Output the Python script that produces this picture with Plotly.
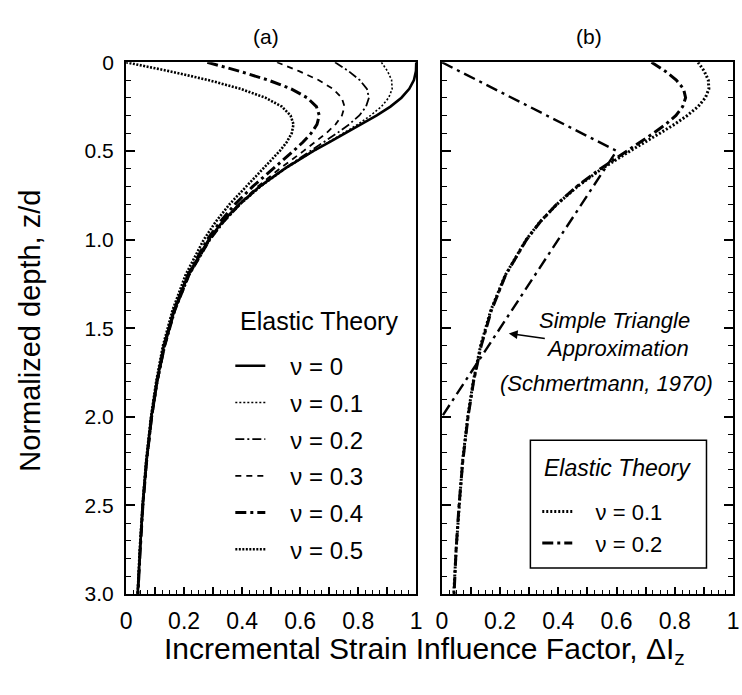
import plotly.graph_objects as go

# ---- data ----
depth = [0, 0.05, 0.1, 0.15, 0.2, 0.25, 0.3, 0.35, 0.4, 0.45, 0.5, 0.6, 0.7, 0.8,
         0.9, 1.0, 1.2, 1.4, 1.6, 1.8, 2.0, 2.25, 2.5, 2.75, 3.0]
nu_00 = [1.000, 0.999, 0.992, 0.976, 0.949, 0.911, 0.864, 0.811, 0.756, 0.701, 0.646,
         0.547, 0.461, 0.390, 0.332, 0.285, 0.213, 0.165, 0.130, 0.106, 0.087, 0.070,
         0.057, 0.048, 0.040]
nu_01 = [0.880, 0.901, 0.915, 0.917, 0.905, 0.880, 0.843, 0.799, 0.749, 0.698, 0.647,
         0.550, 0.466, 0.396, 0.337, 0.290, 0.218, 0.168, 0.133, 0.108, 0.089, 0.071,
         0.059, 0.049, 0.041]
nu_02 = [0.720, 0.767, 0.805, 0.830, 0.837, 0.827, 0.804, 0.769, 0.727, 0.682, 0.635,
         0.545, 0.464, 0.395, 0.338, 0.291, 0.219, 0.170, 0.135, 0.109, 0.090, 0.072,
         0.059, 0.049, 0.042]
nu_03 = [0.520, 0.596, 0.663, 0.713, 0.743, 0.753, 0.744, 0.722, 0.690, 0.653, 0.612,
         0.530, 0.454, 0.389, 0.333, 0.288, 0.218, 0.169, 0.134, 0.109, 0.090, 0.072,
         0.059, 0.049, 0.042]
nu_04 = [0.280, 0.390, 0.489, 0.569, 0.624, 0.656, 0.666, 0.658, 0.638, 0.610, 0.577,
         0.506, 0.437, 0.376, 0.324, 0.280, 0.213, 0.165, 0.132, 0.107, 0.088, 0.071,
         0.058, 0.049, 0.041]
nu_05 = [0.000, 0.148, 0.283, 0.395, 0.480, 0.537, 0.567, 0.577, 0.571, 0.554, 0.530,
         0.472, 0.412, 0.357, 0.309, 0.268, 0.205, 0.160, 0.127, 0.104, 0.086, 0.069,
         0.057, 0.047, 0.040]
tri_depth = [0.0, 0.5, 2.0]
tri_value = [0.0, 0.6, 0.0]

legend_a = ["\u03bd = 0", "\u03bd = 0.1", "\u03bd = 0.2", "\u03bd = 0.3", "\u03bd = 0.4", "\u03bd = 0.5"]
legend_b = ["\u03bd = 0.1", "\u03bd = 0.2"]
x_tickvals = [0, 0.1, 0.2, 0.3, 0.4, 0.5, 0.6, 0.7, 0.8, 0.9, 1.0]
x_ticktext = ["0", "", "0.2", "", "0.4", "", "0.6", "", "0.8", "", "1"]
y_tickvals = [0, 0.5, 1.0, 1.5, 2.0, 2.5, 3.0]
y_ticktext = ["0", "0.5", "1.0", "1.5", "2.0", "2.5", "3.0"]

W, H = 742, 695
FONT = "Liberation Sans, Arial, sans-serif"
PAD = "\u00a0\u00a0\u00a0"

def px_x(p):
    return p / W

def px_y(p):
    return 1 - p / H

fig = go.Figure()

styles_a = [
    dict(width=2.6, dash="solid"),
    dict(width=1.6, dash="2px,2px"),
    dict(width=1.8, dash="9px,3px,2px,3px"),
    dict(width=1.8, dash="6px,5px"),
    dict(width=3.0, dash="11px,4px,3px,4px"),
    dict(width=2.6, dash="2px,1.5px"),
]
series_a = [nu_00, nu_01, nu_02, nu_03, nu_04, nu_05]
for i, (vals, st, name) in enumerate(zip(series_a, styles_a, legend_a)):
    fig.add_trace(go.Scatter(x=vals, y=depth, mode="lines", name=PAD + name,
                             line=dict(color="black", **st),
                             xaxis="x", yaxis="y", legend="legend",
                             legendgroup="a%d" % i))

fig.add_trace(go.Scatter(x=tri_value, y=tri_depth, mode="lines", showlegend=False,
                         line=dict(color="black", width=2.4, dash="12px,5px,3px,5px"),
                         xaxis="x2", yaxis="y2"))
styles_b = [dict(width=3.0, dash="2px,2px"), dict(width=3.0, dash="11px,4px,3px,4px")]
for i, (vals, st, name) in enumerate(zip([nu_01, nu_02], styles_b, legend_b)):
    fig.add_trace(go.Scatter(x=vals, y=depth, mode="lines", name=PAD + name,
                             line=dict(color="black", **st),
                             xaxis="x2", yaxis="y2", legend="legend2",
                             legendgroup="b%d" % i))

dom_a = [px_x(122), px_x(417)]
dom_b = [px_x(443), px_x(739)]
dom_y = [px_y(602), px_y(52)]

xcommon = dict(range=[0, 1], tickvals=x_tickvals, ticktext=x_ticktext, ticks="inside",
               ticklen=7, tickwidth=1.5, tickcolor="black", showline=True, linecolor="black",
               linewidth=2, mirror=True, showgrid=False, zeroline=False,
               ticklabelstandoff=5,
               tickfont=dict(family=FONT, size=23, color="black"),
               minor=dict(dtick=0.025, ticks="inside", ticklen=4, tickwidth=1, tickcolor="black",
                          showgrid=False))
ycommon = dict(range=[3, 0], tickvals=y_tickvals, ticks="inside", ticklen=9, tickwidth=1.5,
               tickcolor="black", showline=True, linecolor="black", linewidth=2,
               showgrid=False, zeroline=False,
               minor=dict(dtick=0.1, ticks="inside", ticklen=5, tickwidth=1, tickcolor="black",
                          showgrid=False))

fig.update_layout(
    width=W, height=H, margin=dict(l=0, r=0, t=0, b=0),
    paper_bgcolor="white", plot_bgcolor="white",
    font=dict(family=FONT, color="black"),
    xaxis=dict(domain=dom_a, anchor="y", **xcommon),
    xaxis2=dict(domain=dom_b, anchor="y2", **xcommon),
    yaxis=dict(domain=dom_y, anchor="x", ticktext=y_ticktext, mirror=True,
               ticklabelstandoff=6,
               tickfont=dict(family=FONT, size=21, color="black"), **ycommon),
    yaxis2=dict(domain=dom_y, anchor="x2", showticklabels=False, mirror="ticks", **ycommon),
    legend=dict(x=px_x(228), y=px_y(343), xanchor="left", yanchor="top",
                bgcolor="rgba(0,0,0,0)", borderwidth=0, tracegroupgap=2.5,
                font=dict(family=FONT, size=24, color="black")),
    legend2=dict(x=px_x(540), y=px_y(495), xanchor="left", yanchor="top",
                 bgcolor="rgba(0,0,0,0)", borderwidth=0, tracegroupgap=0,
                 font=dict(family=FONT, size=22, color="black")),
    showlegend=True,
)

# legend box of panel (b)
fig.add_shape(type="rect", xref="paper", yref="paper",
              x0=px_x(533), x1=px_x(712), y0=px_y(575), y1=px_y(443),
              line=dict(color="black", width=1.5))

def txt(text, x, y, size, **kw):
    d = dict(text=text, x=px_x(x), y=px_y(y), xref="paper", yref="paper",
             xanchor="center", yanchor="middle", showarrow=False,
             font=dict(family=FONT, size=size, color="black"))
    d.update(kw)
    return d

ann = [
    txt("(a)", 264, 25, 21),
    txt("(b)", 593, 25, 21),
    txt("Incremental Strain Influence Factor, \u0394I<sub>z</sub>", 425, 660, 30),
    txt("Normalized depth, z/d", 24, 330, 29, textangle=-90),
    txt("Elastic Theory", 318, 320, 25),
    txt("<i>Elastic Theory</i>", 622, 472, 23),
    txt("<i>Simple Triangle</i>", 618, 319, 22),
    txt("<i>(Schmertmann, 1970)</i>", 610, 384, 22),
    # "Approximation" label with its arrow pointing at the triangle line
    dict(text="<i>Approximation</i>", x=0.23, y=1.53, xref="x2", yref="y2",
         ax=109, ay=15, showarrow=True, arrowhead=2, arrowsize=1.1, arrowwidth=1.6,
         arrowcolor="black", font=dict(family=FONT, size=22, color="black")),
]
fig.update_layout(annotations=ann)

fig.write_html("out.html")
